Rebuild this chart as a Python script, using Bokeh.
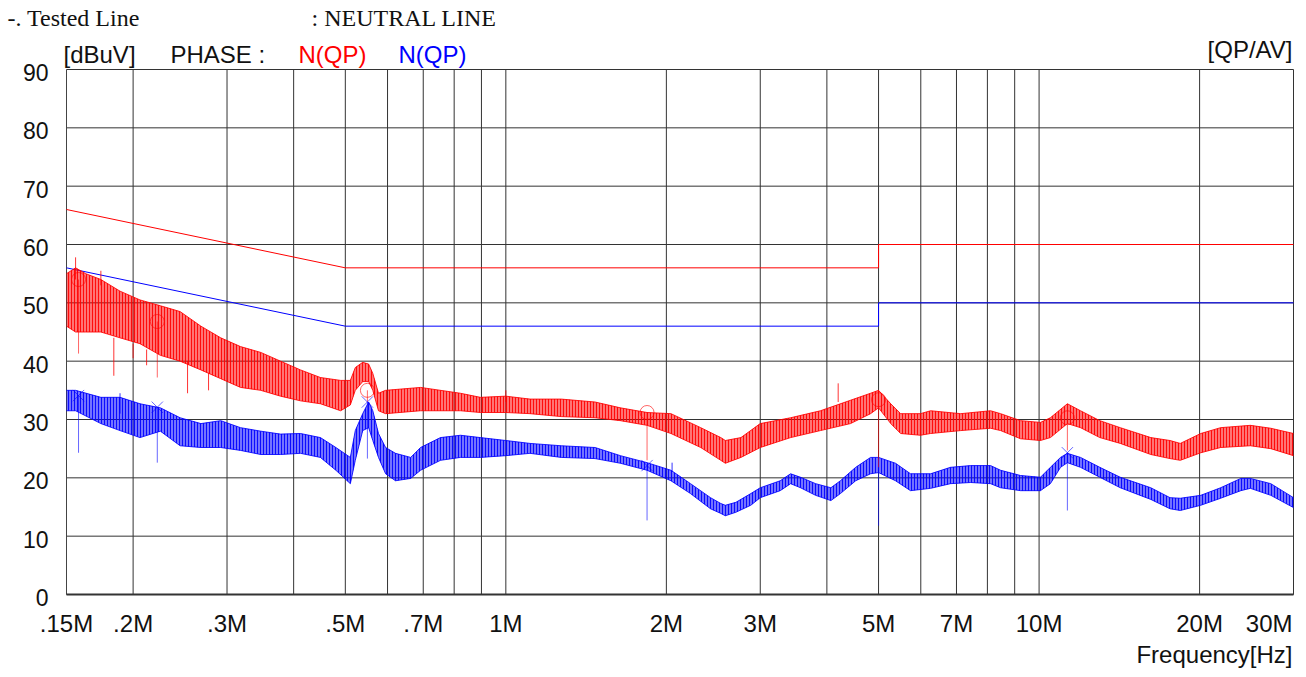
import math
from bokeh.plotting import figure
from bokeh.models import Range1d
from bokeh.core.properties import value
from bokeh.embed import file_html
from bokeh.resources import INLINE

# ---------------- data (MHz, dBuV) ----------------
x_ticks = [0.15, 0.2, 0.3, 0.5, 0.7, 1, 2, 3, 5, 7, 10, 20, 30]
x_tick_labels = [".15M", ".2M", ".3M", ".5M", ".7M", "1M", "2M", "3M", "5M", "7M", "10M", "20M", "30M"]
x_grid = [0.2, 0.3, 0.4, 0.5, 0.6, 0.7, 0.8, 0.9, 1, 2, 3, 4, 5, 6, 7, 8, 9, 10, 20, 30]
y_ticks = [0, 10, 20, 30, 40, 50, 60, 70, 80, 90]
y_tick_labels = ["0", "10", "20", "30", "40", "50", "60", "70", "80", "90"]

# limit lines
qp_limit_f = [0.15, 0.5, 5, 5, 30]
qp_limit_v = [66, 56, 56, 60, 60]
av_limit_f = [0.15, 0.5, 5, 5, 30]
av_limit_v = [56, 46, 46, 50, 50]

# red trace (QP scan) envelope
red_f = [0.150, 0.156, 0.163, 0.174, 0.189, 0.206, 0.225, 0.245, 0.268, 0.292,
         0.318, 0.347, 0.378, 0.412, 0.449, 0.490, 0.511, 0.522, 0.539, 0.553,
         0.563, 0.577, 0.595, 0.692, 0.822, 0.896, 1.0, 1.11, 1.27, 1.47,
         1.64, 1.84, 2.04, 2.32, 2.53, 2.58, 2.76, 3.00, 3.42, 3.89,
         4.43, 4.83, 5.0, 5.27, 5.50, 5.99, 6.26, 7.13, 8.11, 8.47,
         9.23, 10.06, 10.5, 11.3, 11.96, 13.0, 14.2, 16.2, 17.6, 18.4,
         20.1, 21.9, 24.9, 27.2, 30.0]
red_lo = [46, 45, 45, 45, 44, 43, 41, 40, 38.5, 37,
          35.5, 35, 34, 33.2, 32.7, 31.5, 32.5, 35, 36.5, 36.5,
          35, 31.5, 31, 31.5, 31.5, 31.2, 31.2, 31, 30.5, 30.3,
          29.8, 29, 27.6, 25.2, 23, 22.5, 23.5, 25.2, 26.9, 28.1,
          29.3, 31, 32, 29.3, 27.6, 27.3, 27.6, 28.1, 28.5, 28.1,
          26.7, 26.4, 26.9, 29.3, 28.6, 26.9, 25.9, 24, 23.3, 23,
          24.3, 25.2, 25.5, 25, 23.8]
red_hi = [55, 56, 55, 54, 52, 50.5, 49.5, 48.5, 46, 44,
          42.5, 41.5, 40, 38.5, 37.2, 36.7, 36.7, 38.9, 39.8, 39.5,
          37.9, 34.5, 35, 35.5, 34.5, 33.8, 34, 33.5, 33.5, 33,
          32, 31.2, 31, 28.6, 26.9, 26.4, 26.9, 29.3, 30.3, 31.5,
          33.3, 34.5, 35, 32.7, 31, 31, 31.5, 31, 31.5, 31,
          29.8, 29.5, 30.3, 32.7, 31.5, 29.8, 28.6, 26.9, 26.4, 25.9,
          27.6, 28.6, 29, 28.5, 27.6]

# blue trace (AV scan) envelope
blue_f = [0.150, 0.156, 0.174, 0.189, 0.206, 0.225, 0.245, 0.268, 0.292, 0.318,
          0.347, 0.378, 0.412, 0.449, 0.480, 0.511, 0.522, 0.539, 0.553, 0.563,
          0.577, 0.595, 0.621, 0.663, 0.692, 0.754, 0.822, 0.896, 1.0, 1.11,
          1.27, 1.47, 1.64, 1.84, 2.04, 2.22, 2.42, 2.53, 2.58, 2.70,
          2.88, 3.00, 3.27, 3.42, 3.57, 3.81, 4.07, 4.24, 4.53, 4.83,
          5.0, 5.38, 5.74, 6.26, 6.82, 7.44, 8.11, 8.47, 9.23, 10.06,
          10.5, 10.97, 11.3, 11.96, 13.0, 14.2, 16.2, 17.6, 18.4, 20.1,
          21.9, 23.9, 24.9, 27.2, 30.0]
blue_lo = [31.5, 31.5, 29.3, 28.1, 26.9, 28, 25.5, 25.2, 25.2, 24.7,
           24, 24, 24.2, 23.5, 21.3, 19, 23, 28.1, 28.6, 26.4,
           23.5, 20.7, 19.5, 19.9, 21.3, 23, 23.5, 23.5, 23.8, 24.2,
           23.5, 23.3, 22.5, 21.3, 19.5, 17.3, 14.7, 13.9, 13.5, 14.1,
           15.3, 16.6, 17.8, 19, 18.3, 17, 16.1, 17.3, 19.5, 20.7,
           20.9, 19.5, 17.8, 18.2, 19, 19.2, 19, 18.3, 17.8, 17.8,
           19, 21.8, 22.6, 21.8, 20.1, 18.3, 16.3, 14.7, 14.4, 15.3,
           16.5, 17.8, 18.2, 17, 14.9]
blue_hi = [35, 35, 33.8, 33.8, 32.7, 32, 30.3, 29.3, 29.8, 28.6,
           28, 27.5, 27.6, 26.9, 25.2, 23.5, 28.1, 31, 33, 31.5,
           27.6, 25.2, 24.2, 23.5, 25.2, 26.9, 27.3, 26.9, 26.4, 25.9,
           25.5, 25.2, 23.8, 22.6, 21.3, 19, 16.6, 15.6, 15.3, 15.8,
           17.3, 18.3, 19.5, 20.7, 20.1, 19, 18.3, 19.5, 21.8, 23.5,
           23.5, 22.5, 20.7, 20.7, 21.8, 22.1, 22.1, 21.3, 20.4, 20.1,
           21.8, 23.5, 24.2, 23.5, 21.8, 20.1, 18.3, 16.6, 16.5, 17,
           18.3, 19.9, 19.9, 19, 16.6]

# isolated spikes sticking out of the noise band
red_spike_f = [0.156, 0.174, 0.184, 0.200, 0.212, 0.253, 0.277, 1.0, 4.2]
red_spike_from = [54, 53, 44, 43, 42, 40, 38, 33, 33]
red_spike_to = [57.8, 55.5, 37.5, 40.5, 39.3, 34.5, 35, 35, 36.2]
blue_spike_f = [0.189, 2.05]
blue_spike_from = [31, 21]
blue_spike_to = [34.5, 22.6]

# final measurement markers
qp_mark_f = [0.158, 0.222, 0.550, 1.84, 5.0, 11.3]
qp_mark_v = [54.0, 46.8, 35.0, 31.2, 33.4, 30.3]
qp_drop_v = [41.3, 37.2, 33.0, 23.0, 21.8, 24.7]
av_mark_f = [0.158, 0.222, 0.550, 1.84, 11.3]
av_mark_v = [34.1, 32.1, 33.0, 22.1, 24.3]
av_drop_f = [0.158, 0.222, 0.550, 1.84, 5.0, 11.3]
av_drop_top = [34.1, 32.1, 33.0, 22.1, 21.8, 24.3]
av_drop_v = [24.3, 22.6, 23.3, 12.7, 11.8, 14.4]

# ---------------- layout / style ----------------
RED = "#ff0000"
BLUE = "#0000ff"
GRID = "#333333"
INK = "#111111"
SANS = value("Liberation Sans")
SERIF = value("Liberation Serif")
W, H = 1298, 669
PX_L, PX_R, PX_T, PX_B = 66, 1293, 69, 594   # plot area inside the canvas

X0, X1 = x_ticks[0], x_ticks[-1]
Y0, Y1 = y_ticks[0], y_ticks[-1]
kx = (math.log10(X1) - math.log10(X0)) / (PX_R - PX_L)
ky = (Y1 - Y0) / (PX_B - PX_T)
x_start = 10 ** (math.log10(X0) - PX_L * kx)
x_end = 10 ** (math.log10(X1) + (W - PX_R) * kx)
y_start = Y0 - (H - PX_B) * ky
y_end = Y1 + PX_T * ky

p = figure(width=W, height=H, x_axis_type="log",
           x_range=Range1d(x_start, x_end), y_range=Range1d(y_start, y_end),
           x_axis_location=None, y_axis_location=None,
           output_backend="svg", toolbar_location=None, title=None, min_border=0)
p.outline_line_color = None
p.xgrid.visible = False
p.ygrid.visible = False
p.background_fill_color = "white"
p.border_fill_color = "white"

# grid and frame
p.segment(x0=x_grid, y0=Y0, x1=x_grid, y1=Y1, line_color=GRID, line_width=1)
p.segment(x0=X0, y0=y_ticks, x1=X1, y1=y_ticks, line_color=GRID, line_width=1)
p.segment(x0=X0, y0=Y0, x1=X0, y1=Y1, line_color="#444444", line_width=1)
p.segment(x0=X0, y0=Y0, x1=X1, y1=Y0, line_color=GRID, line_width=2)

# tick labels (the last x label is kept inside the plot's right edge)
p.text(x=x_ticks[:-1], y=Y0, text=x_tick_labels[:-1], text_align="center",
       text_baseline="alphabetic", y_offset=29, text_font=SANS,
       text_font_size="24px", text_color=INK)
p.text(x=x_ticks[-1:], y=Y0, text=x_tick_labels[-1:], text_align="right",
       text_baseline="alphabetic", x_offset=-1, y_offset=29, text_font=SANS,
       text_font_size="24px", text_color=INK)
p.text(x=X0, y=y_ticks, text=y_tick_labels, text_align="right", text_baseline="alphabetic",
       x_offset=-18, y_offset=3, text_font=SANS, text_font_size="23px", text_color=INK)

# limit lines
p.line(qp_limit_f, qp_limit_v, line_color=RED, line_width=1)
p.line(av_limit_f, av_limit_v, line_color=BLUE, line_width=1)

# traces as noisy envelopes (vertical hatch imitates the dense scan spikes)
for f, lo, hi, col in ((red_f, red_lo, red_hi, RED), (blue_f, blue_lo, blue_hi, BLUE)):
    p.varea(x=f, y1=lo, y2=hi, fill_color=col, fill_alpha=0.55,
            hatch_pattern="vertical_line", hatch_color=col, hatch_alpha=0.9,
            hatch_scale=3, hatch_weight=1)
    p.line(f, lo, line_color=col, line_width=1, line_alpha=0.85)
    p.line(f, hi, line_color=col, line_width=1, line_alpha=0.85)

p.segment(x0=red_spike_f, y0=red_spike_from, x1=red_spike_f, y1=red_spike_to,
          line_color=RED, line_width=1, line_alpha=0.8)
p.segment(x0=blue_spike_f, y0=blue_spike_from, x1=blue_spike_f, y1=blue_spike_to,
          line_color=BLUE, line_width=1, line_alpha=0.8)

# markers and drop lines
p.segment(x0=qp_mark_f, y0=qp_mark_v, x1=qp_mark_f, y1=qp_drop_v,
          line_color=RED, line_width=1, line_alpha=0.6)
p.segment(x0=av_drop_f, y0=av_drop_top, x1=av_drop_f, y1=av_drop_v,
          line_color=BLUE, line_width=1, line_alpha=0.6)
p.scatter(qp_mark_f, qp_mark_v, marker="circle", size=14, fill_color=None,
          line_color=RED, line_alpha=0.6, line_width=1)
p.scatter(av_mark_f, av_mark_v, marker="x", size=16,
          line_color=BLUE, line_alpha=0.6, line_width=1)

# header / footer texts, anchored to the plot corners with pixel offsets
def note(x, y, text, dx, dy, color=INK, font=SANS, align="left"):
    p.text(x=x, y=y, text=[text], x_offset=dx, y_offset=dy, text_align=align,
           text_baseline="alphabetic", text_font=font, text_font_size="24px",
           text_color=color)

note(X0, Y1, "-. Tested Line", -59, -52, font=SERIF)
note(X0, Y1, ": NEUTRAL LINE", 245, -52, font=SERIF)
note(X0, Y1, "[dBuV]", -3, -15)
note(X0, Y1, "PHASE :", 104, -15)
note(X0, Y1, "N(QP)", 232, -15, color=RED)
note(X0, Y1, "N(QP)", 332, -15, color=BLUE)
note(X1, Y1, "[QP/AV]", -1, -20, align="right")
note(X1, Y0, "Frequency[Hz]", -1, 60, align="right")

open("out.html", "w").write(file_html(p, INLINE))
